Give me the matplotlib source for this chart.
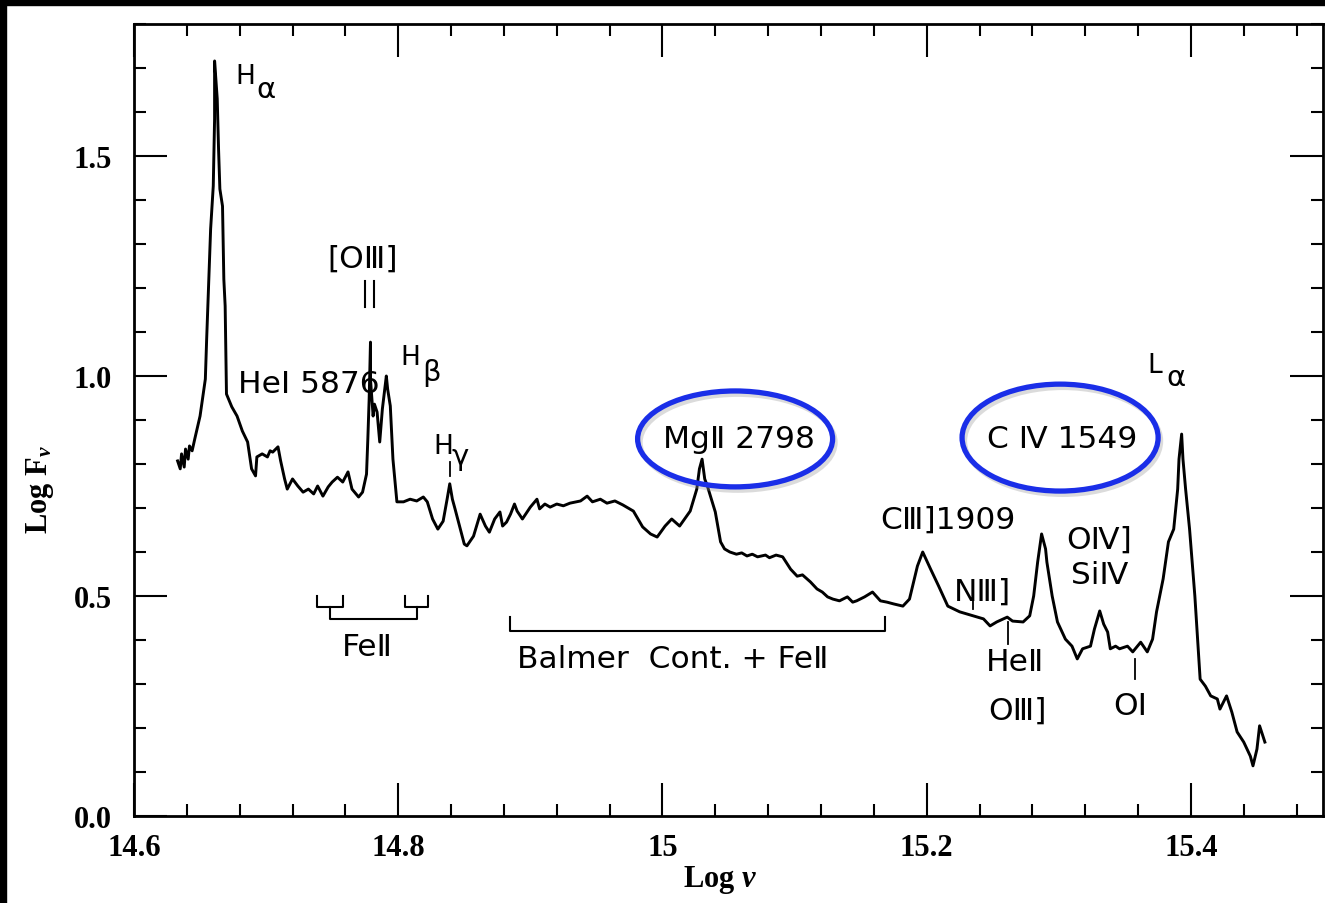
import numpy as np
import matplotlib.pyplot as plt
from matplotlib.patches import Ellipse, Rectangle
from matplotlib.ticker import MultipleLocator, FixedLocator, FixedFormatter

plt.rcParams['mathtext.fontset'] = 'custom'
plt.rcParams['mathtext.rm'] = 'Liberation Serif:bold'
plt.rcParams['mathtext.it'] = 'Liberation Serif:italic:bold'
plt.rcParams['mathtext.bf'] = 'Liberation Serif:bold'

# composite quasar spectrum (log nu, log F_nu)
log_nu = [14.633, 14.635, 14.636, 14.638, 14.639, 14.641, 14.642, 14.644, 14.646, 14.650,
          14.654, 14.655, 14.657, 14.658, 14.660, 14.661, 14.661, 14.663, 14.664, 14.665,
          14.667, 14.668, 14.669, 14.670, 14.674, 14.678, 14.682, 14.686, 14.689, 14.692,
          14.693, 14.697, 14.701, 14.703, 14.705, 14.709, 14.711, 14.714, 14.716, 14.720,
          14.724, 14.728, 14.732, 14.736, 14.739, 14.743, 14.747, 14.750, 14.754, 14.758,
          14.762, 14.765, 14.770, 14.773, 14.776, 14.777, 14.778, 14.779, 14.779, 14.781,
          14.782, 14.784, 14.786, 14.788, 14.791, 14.792, 14.794, 14.796, 14.799, 14.804,
          14.809, 14.814, 14.819, 14.822, 14.826, 14.830, 14.834, 14.837, 14.839, 14.841,
          14.843, 14.847, 14.850, 14.852, 14.857, 14.862, 14.866, 14.869, 14.873, 14.877,
          14.879, 14.882, 14.885, 14.888, 14.890, 14.894, 14.900, 14.905, 14.907, 14.911,
          14.915, 14.920, 14.925, 14.930, 14.938, 14.943, 14.947, 14.953, 14.958, 14.964,
          14.970, 14.978, 14.985, 14.991, 14.996, 15.002, 15.007, 15.013, 15.018, 15.021,
          15.026, 15.028, 15.030, 15.032, 15.034, 15.040, 15.044, 15.047, 15.051, 15.056,
          15.060, 15.064, 15.068, 15.072, 15.078, 15.081, 15.086, 15.091, 15.097, 15.102,
          15.106, 15.112, 15.117, 15.121, 15.125, 15.129, 15.134, 15.140, 15.144, 15.147,
          15.153, 15.159, 15.165, 15.170, 15.175, 15.182, 15.187, 15.193, 15.197, 15.203,
          15.209, 15.216, 15.225, 15.235, 15.243, 15.248, 15.253, 15.261, 15.265, 15.273,
          15.278, 15.281, 15.284, 15.287, 15.290, 15.291, 15.295, 15.299, 15.305, 15.310,
          15.314, 15.318, 15.324, 15.327, 15.331, 15.334, 15.337, 15.339, 15.343, 15.346,
          15.352, 15.356, 15.362, 15.367, 15.371, 15.374, 15.379, 15.383, 15.387, 15.390,
          15.391, 15.393, 15.394, 15.396, 15.399, 15.403, 15.407, 15.411, 15.415, 15.420,
          15.422, 15.427, 15.431, 15.435, 15.440, 15.445, 15.447, 15.450, 15.452, 15.456]
log_f = [0.807, 0.789, 0.823, 0.793, 0.834, 0.811, 0.841, 0.830, 0.857, 0.909,
         0.993, 1.084, 1.250, 1.334, 1.432, 1.584, 1.716, 1.630, 1.516, 1.425,
         1.386, 1.220, 1.159, 0.959, 0.930, 0.909, 0.875, 0.850, 0.789, 0.773,
         0.816, 0.823, 0.816, 0.830, 0.827, 0.839, 0.807, 0.766, 0.743, 0.766,
         0.750, 0.736, 0.743, 0.732, 0.750, 0.727, 0.748, 0.759, 0.770, 0.759,
         0.782, 0.743, 0.725, 0.736, 0.777, 0.857, 0.948, 1.077, 0.993, 0.909,
         0.936, 0.918, 0.850, 0.925, 1.000, 0.970, 0.932, 0.811, 0.714, 0.714,
         0.720, 0.716, 0.725, 0.714, 0.675, 0.652, 0.670, 0.720, 0.755, 0.720,
         0.698, 0.652, 0.618, 0.614, 0.636, 0.686, 0.659, 0.645, 0.675, 0.691,
         0.659, 0.668, 0.686, 0.709, 0.693, 0.675, 0.702, 0.720, 0.698, 0.709,
         0.702, 0.709, 0.705, 0.711, 0.716, 0.727, 0.714, 0.720, 0.711, 0.716,
         0.707, 0.693, 0.657, 0.641, 0.634, 0.659, 0.675, 0.659, 0.680, 0.693,
         0.743, 0.789, 0.811, 0.766, 0.750, 0.691, 0.623, 0.607, 0.600, 0.595,
         0.598, 0.591, 0.595, 0.589, 0.593, 0.587, 0.593, 0.589, 0.561, 0.545,
         0.548, 0.532, 0.516, 0.509, 0.498, 0.493, 0.489, 0.498, 0.486, 0.489,
         0.498, 0.509, 0.489, 0.486, 0.482, 0.477, 0.493, 0.568, 0.600, 0.561,
         0.523, 0.477, 0.464, 0.455, 0.448, 0.432, 0.441, 0.452, 0.443, 0.441,
         0.455, 0.500, 0.577, 0.641, 0.607, 0.577, 0.500, 0.441, 0.402, 0.386,
         0.357, 0.380, 0.386, 0.425, 0.466, 0.436, 0.418, 0.380, 0.386, 0.380,
         0.386, 0.373, 0.395, 0.373, 0.402, 0.464, 0.539, 0.623, 0.652, 0.743,
         0.811, 0.868, 0.811, 0.743, 0.652, 0.500, 0.311, 0.295, 0.273, 0.266,
         0.243, 0.273, 0.236, 0.191, 0.168, 0.136, 0.114, 0.152, 0.205, 0.168]

x_ticks = [14.6, 14.8, 15.0, 15.2, 15.4]
x_tick_labels = ['14.6', '14.8', '15', '15.2', '15.4']
y_ticks = [0.0, 0.5, 1.0, 1.5]
y_tick_labels = ['0.0', '0.5', '1.0', '1.5']

# line markers / brackets (log nu positions)
oiii_lines = [14.7749, 14.7817]
hgamma_mark = 14.8392
niii_mark = 15.235
heii_mark = 15.2616
oi_mark = 15.3578
feii_left = (14.7385, 14.7582)
feii_right = (14.8052, 14.8226)
balmer_span = (14.8846, 15.1685)

fig = plt.figure(figsize=(13.25, 9.04), dpi=100)
ax = fig.add_axes([134 / 1325, 87 / 904, 1189 / 1325, 792 / 904])

ax.plot(log_nu, log_f, color='black', lw=2.1, solid_joinstyle='round')

ax.set_xlim(14.6, 15.5)
ax.set_ylim(0, 1.8)
ax.xaxis.set_major_locator(FixedLocator(x_ticks))
ax.xaxis.set_major_formatter(FixedFormatter(x_tick_labels))
ax.xaxis.set_minor_locator(MultipleLocator(0.04))
ax.yaxis.set_major_locator(FixedLocator(y_ticks))
ax.yaxis.set_major_formatter(FixedFormatter(y_tick_labels))
ax.yaxis.set_minor_locator(MultipleLocator(0.1))
ax.tick_params(which='both', direction='in', top=True, right=True, width=1.5,
               labelsize=22)
ax.tick_params(which='major', length=24)
ax.tick_params(which='minor', length=8.5)
ax.tick_params(axis='x', pad=12)
ax.tick_params(axis='y', pad=16)
for lab in ax.get_xticklabels() + ax.get_yticklabels():
    lab.set_family('Liberation Serif')
    lab.set_weight('bold')
for sp in ax.spines.values():
    sp.set_linewidth(2.0)

fig.text(0.5434, 0.027, r'Log $\nu$', ha='center', va='center', fontsize=22,
         family='Liberation Serif', weight='bold')
fig.text(0.030, 0.458, r'Log F$_\nu$', ha='center', va='center', fontsize=22,
         family='Liberation Serif', weight='bold', rotation=90)

tk = dict(fontsize=22.5, family=['DejaVu Sans'], color='black')
hk = dict(fontsize=19, family=['DejaVu Sans'], color='black')
gk = dict(fontsize=21, family=['DejaVu Sans'], color='black')

# Greek-labelled hydrogen lines
ax.text(14.6765, 1.682, 'H', ha='left', va='center', **hk)
ax.text(14.6930, 1.652, 'α', ha='left', va='center', **gk)
ax.text(14.8014, 1.043, 'H', ha='left', va='center', **hk)
ax.text(14.8180, 1.008, 'β', ha='left', va='center', **gk)
ax.text(14.8263, 0.841, 'H', ha='left', va='center', **hk)
ax.text(14.8400, 0.818, 'γ', ha='left', va='center', **gk)
ax.text(15.3668, 1.025, 'L', ha='left', va='center', **hk)
ax.text(15.3815, 0.998, 'α', ha='left', va='center', **gk)
ax.plot([hgamma_mark, hgamma_mark], [0.773, 0.805], color='black', lw=1.3)

ax.text(14.7734, 1.268, '[OⅢ]', ha='center', va='center', **tk)
for x in oiii_lines:
    ax.plot([x, x], [1.157, 1.216], color='black', lw=1.5)
ax.text(14.6787, 0.984, 'HeI 5876', ha='left', va='center', **tk)

ax.text(15.058, 0.857, 'MgⅡ 2798', ha='center', va='center', **tk)
ax.text(15.3025, 0.857, 'C Ⅳ 1549', ha='center', va='center', **tk)
ax.text(15.2162, 0.675, 'CⅢ]1909', ha='center', va='center', **tk)
ax.text(15.242, 0.511, 'NⅢ]', ha='center', va='center', **tk)
ax.plot([niii_mark, niii_mark], [0.470, 0.493], color='black', lw=1.3)
ax.text(15.2669, 0.352, 'HeⅡ', ha='center', va='center', **tk)
ax.plot([heii_mark, heii_mark], [0.391, 0.441], color='black', lw=1.3)
ax.text(15.2684, 0.241, 'OⅢ]', ha='center', va='center', **tk)
ax.text(15.3305, 0.630, 'OⅣ]', ha='center', va='center', **tk)
ax.text(15.3313, 0.548, 'SiⅣ', ha='center', va='center', **tk)
ax.text(15.354, 0.252, 'OI', ha='center', va='center', **tk)
ax.plot([oi_mark, oi_mark], [0.311, 0.357], color='black', lw=1.3)

# Fe II brackets
bk = dict(color='black', lw=1.5)
for a, b in (feii_left, feii_right):
    ax.plot([a, a, b, b], [0.500, 0.475, 0.475, 0.500], **bk)
mid_l = (feii_left[0] + feii_left[1]) / 2
mid_r = (feii_right[0] + feii_right[1]) / 2
ax.plot([mid_l, mid_l, mid_r, mid_r], [0.475, 0.448, 0.448, 0.475], **bk)
ax.text(14.7764, 0.386, 'FeⅡ', ha='center', va='center', **tk)

ax.plot([balmer_span[0], balmer_span[0], balmer_span[1], balmer_span[1]],
        [0.452, 0.420, 0.420, 0.452], **bk)
ax.text(15.008, 0.357, 'Balmer  Cont. + FeⅡ', ha='center', va='center', **tk)

# blue highlight ellipses
for cx, cy, w, h in [(15.055, 0.857, 0.1476, 0.218), (15.301, 0.860, 0.1484, 0.243)]:
    ax.add_patch(Ellipse((cx + 0.002, cy - 0.008), w, h, fill=False,
                         edgecolor='#9a9a9a', lw=3.5, alpha=0.35, zorder=4))
    ax.add_patch(Ellipse((cx, cy), w, h, fill=False, edgecolor='#1a2ee8',
                         lw=3.8, zorder=5))

# black frame strips of the screenshot
fig.patches.append(Rectangle((0, 1 - 6 / 904), 1, 6 / 904, transform=fig.transFigure,
                             color='black', zorder=10))
fig.patches.append(Rectangle((0, 0), 6 / 1325, 1, transform=fig.transFigure,
                             color='black', zorder=10))

fig.savefig('out.png', dpi=100)
